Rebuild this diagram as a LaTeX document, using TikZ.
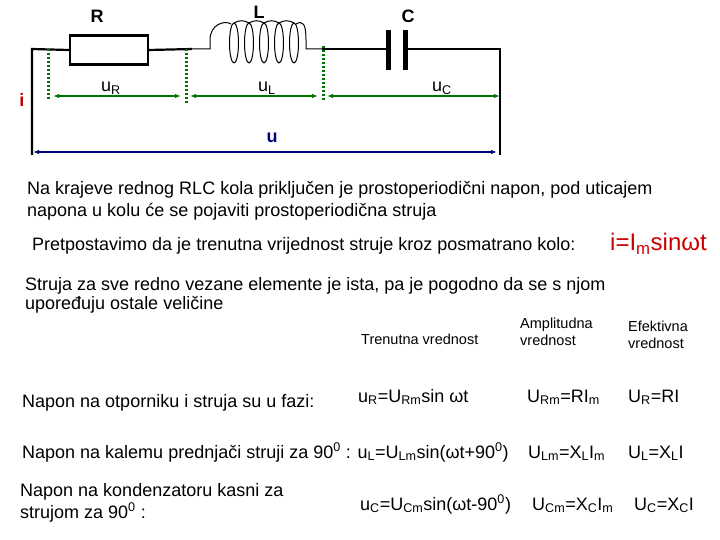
\documentclass[tikz,border=0pt]{standalone}
\usepackage{fontspec}
\setmainfont{Liberation Sans}
\usetikzlibrary{arrows.meta}
\begin{document}
\begin{tikzpicture}[x=1pt,y=-1pt,
 txt/.style={anchor=base west,inner sep=0pt,font=\fontsize{18}{21}\selectfont},
 sml/.style={anchor=north west,inner sep=0pt,font=\fontsize{14.5}{17}\selectfont,align=left},
 lbl/.style={inner sep=0pt,font=\fontsize{18}{20}\selectfont\bfseries},
 wire/.style={line width=2.2pt},
 dots/.style={draw=green!45!black,line width=3pt,dash pattern=on 2.5pt off 1.5pt},
 garr/.style={draw=green!45!black,line width=1.5pt,{Latex[length=6pt]}-{Latex[length=6pt]}},
 barr/.style={draw=blue!50!black,line width=1.5pt,{Latex[length=6pt]}-{Latex[length=6pt]}}]
\useasboundingbox (0,0) rectangle (720,540);
% circuit
\coordinate (tl) at (32,49); \coordinate (bl) at (32,155);
\coordinate (tr) at (500,49); \coordinate (br) at (500,155);
\node[draw,line width=2.2pt,minimum width=78pt,minimum height=29pt,inner sep=0pt] (R) at (109,50) {};
\draw[wire] (bl) -- (tl) -- (R.west);
\draw[wire] (R.east) -- (192,49);
\coordinate (l1) at (192,49); \coordinate (l2) at (322,49);
\draw[line width=1pt] (l1) -- (210,49) -- (210,40) .. controls (210,24) and (225,20) .. (231,24);
\foreach \cx in {234,249,264,279,294}{
  \draw[line width=1pt] (\cx,43) ellipse [x radius=4.5, y radius=20];
}
\foreach \cx in {234,249,264,279}{
  \draw[line width=1pt] (\cx,23) .. controls (\cx+5,20) and (\cx+10,20) .. (\cx+15,23);
}
\draw[line width=1pt] (296,24) .. controls (303,20) and (306,24) .. (306,40) -- (306,49) -- (l2);
\draw[wire] (l2) -- (388,49);
\draw[line width=5pt] (388,30) -- (388,70);
\draw[line width=5pt] (405,30) -- (405,70);
\draw[wire] (405,49) -- (tr) -- (br);
\node[lbl] (RL) at (97,16) {R};
\node[lbl] (LL) at (259,12) {L};
\node[lbl] (CL) at (408,16) {C};
\coordinate (d1) at (48,49); \coordinate (d1b) at (48,100);
\coordinate (d2) at (186,49); \coordinate (d2b) at (186,103);
\coordinate (d3) at (323,46); \coordinate (d3b) at (323,100);
\draw[dots] (d1) -- (d1b); \draw[dots] (d2) -- (d2b); \draw[dots] (d3) -- (d3b);
\coordinate (a1) at (53,96); \coordinate (a2) at (181,96);
\coordinate (a3) at (190,96); \coordinate (a4) at (318,96);
\coordinate (a5) at (327,96); \coordinate (a6) at (500,96);
\draw[garr] (a1) -- (a2); \draw[garr] (a3) -- (a4); \draw[garr] (a5) -- (a6);
\node[anchor=base west,inner sep=0pt,font=\fontsize{18}{20}\selectfont] (uR) at (101,92) {u\textsubscript{R}};
\node[anchor=base west,inner sep=0pt,font=\fontsize{18}{20}\selectfont] (uL) at (258,92) {u\textsubscript{L}};
\node[anchor=base west,inner sep=0pt,font=\fontsize{18}{20}\selectfont] (uC) at (432,92) {u\textsubscript{C}};
\node[lbl,text=red!75!black] (i) at (22,100) {i};
\coordinate (b1) at (33,152); \coordinate (b2) at (497,152);
\draw[barr] (b1) -- (b2);
\node[lbl,text=blue!50!black] (u) at (272,138) {u};
% texts
\node[txt] (t1) at (27,195) {Na krajeve rednog RLC kola priključen je prostoperiodični napon, pod uticajem};
\node[txt] (t2) at (27,217) {napona u kolu će se pojaviti prostoperiodična struja};
\node[txt] (t3) at (32,251) {Pretpostavimo da je trenutna vrijednost struje kroz posmatrano kolo:};
\node[anchor=base west,inner sep=0pt,text=red!80!black,font=\fontsize{24}{26}\selectfont] (ieq) at (610,251) {i=I\textsubscript{m}sinωt};
\node[txt] (t4) at (25,290) {Struja za sve redno vezane elemente je ista, pa je pogodno da se s njom};
\node[txt] (t5) at (25,309) {upoređuju ostale veličine};
\node[sml,anchor=base west] (h1) at (361,344) {Trenutna vrednost};
\node[sml] (h2) at (520,318) {Amplitudna\\vrednost};
\node[sml] (h3) at (628,321) {Efektivna\\vrednost};
\node[txt] (r1) at (22,407) {Napon na otporniku i struja su u fazi:};
\node[txt] (r1a) at (358,402) {u\textsubscript{R}=U\textsubscript{Rm}sin ωt};
\node[txt] (r1b) at (527,402) {U\textsubscript{Rm}=RI\textsubscript{m}};
\node[txt] (r1c) at (628,402) {U\textsubscript{R}=RI};
\node[txt] (r2) at (22,458) {Napon na kalemu prednjači struji za 90\textsuperscript{0} : u\textsubscript{L}=U\textsubscript{Lm}sin(ωt+90\textsuperscript{0})};
\node[txt] (r2b) at (528,458) {U\textsubscript{Lm}=X\textsubscript{L}I\textsubscript{m}};
\node[txt] (r2c) at (628,458) {U\textsubscript{L}=X\textsubscript{L}I};
\node[txt] (r3) at (20,496) {Napon na kondenzatoru kasni za};
\node[txt] (r3l) at (20,518) {strujom za 90\textsuperscript{0} :};
\node[txt] (r3a) at (360,510) {u\textsubscript{C}=U\textsubscript{Cm}sin(ωt-90\textsuperscript{0})};
\node[txt] (r3b) at (532,510) {U\textsubscript{Cm}=X\textsubscript{C}I\textsubscript{m}};
\node[txt] (r3c) at (634,510) {U\textsubscript{C}=X\textsubscript{C}I};
\end{tikzpicture}
\end{document}
